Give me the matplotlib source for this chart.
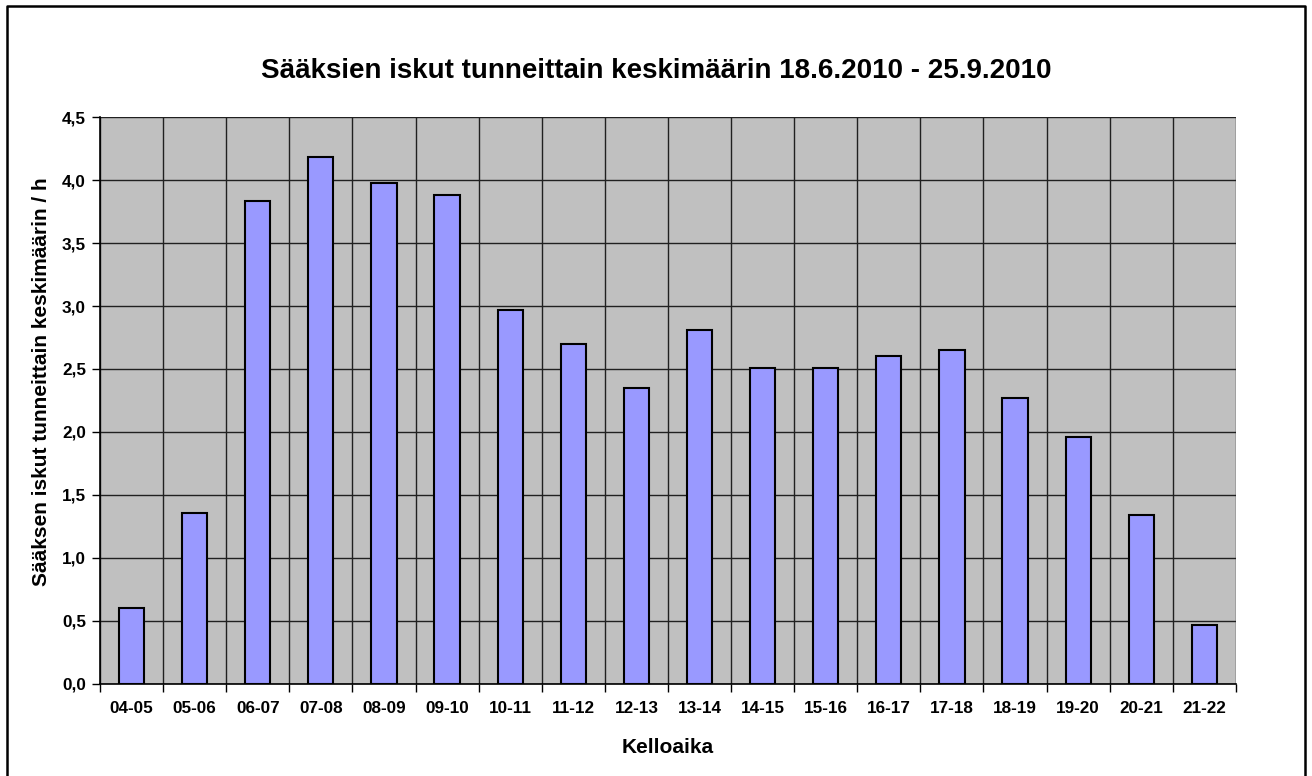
import matplotlib.pyplot as plt
from matplotlib.lines import Line2D

plt.rcParams['font.family'] = ['Liberation Sans', 'DejaVu Sans']

hours = ['04-05', '05-06', '06-07', '07-08', '08-09', '09-10', '10-11', '11-12',
         '12-13', '13-14', '14-15', '15-16', '16-17', '17-18', '18-19', '19-20',
         '20-21', '21-22']
strikes = [0.60, 1.36, 3.83, 4.18, 3.98, 3.88, 2.97, 2.70, 2.35, 2.81, 2.51,
           2.51, 2.60, 2.65, 2.27, 1.96, 1.34, 0.47]
y_ticks = [0.0, 0.5, 1.0, 1.5, 2.0, 2.5, 3.0, 3.5, 4.0, 4.5]

fig = plt.figure(figsize=(13.12, 7.76), dpi=100)
ax = fig.add_axes([0.0762, 0.1186, 0.8658, 0.7306])
ax.set_facecolor('#C0C0C0')

x = range(len(hours))
ax.bar(x, strikes, width=0.4, color='#9999FF', edgecolor='black', linewidth=1.5, zorder=3)

ax.set_xlim(-0.5, len(hours) - 0.5)
ax.set_ylim(0, 4.5)

# category boundaries get the tick marks + gridlines, labels sit in the middle
ax.set_xticks([i - 0.5 for i in range(len(hours) + 1)])
ax.set_xticklabels([])
ax.set_xticks(list(x), minor=True)
ax.set_xticklabels(hours, minor=True, fontsize=12.3, fontweight='bold')
ax.tick_params(axis='x', which='minor', length=0, pad=12)
ax.tick_params(axis='x', which='major', length=6, width=1, direction='out')

ax.set_yticks(y_ticks)
ax.set_yticklabels([f'{v:.1f}'.replace('.', ',') for v in y_ticks],
                   fontsize=12.3, fontweight='bold')
ax.tick_params(axis='y', length=6, width=1, direction='out', pad=4)

ax.grid(True, which='major', color='#202020', linewidth=1, zorder=1)
ax.set_axisbelow(True)

for side in ['top', 'right']:
    ax.spines[side].set_visible(False)
ax.spines['left'].set_linewidth(1.2)
ax.spines['bottom'].set_linewidth(1.2)

ax.set_xlabel('Kelloaika', fontsize=15, fontweight='bold', labelpad=16)
ax.set_ylabel('Sääksen iskut tunneittain keskimäärin / h', fontsize=15,
              fontweight='bold')
ax.yaxis.set_label_coords(-0.043, 0.534)

fig.text(0.5, 0.908, 'Sääksien iskut tunneittain keskimäärin 18.6.2010 - 25.9.2010',
         ha='center', va='center', fontsize=20, fontweight='bold')

# outer chart border (bottom edge lies below the image)
bx0, bx1, by = 7 / 1312, 1305 / 1312, 1 - 6 / 776
fig.add_artist(Line2D([bx0, bx0, bx1, bx1], [0, by, by, 0], color='black',
                      linewidth=1.8, transform=fig.transFigure))

fig.savefig('out.png', dpi=100)
